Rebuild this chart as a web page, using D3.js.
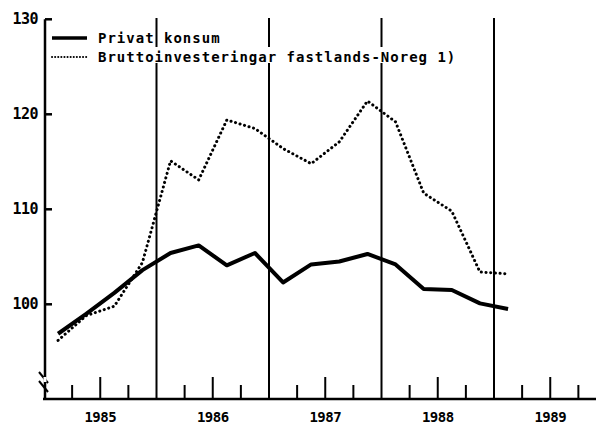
<!DOCTYPE html>
<html>
<head>
<meta charset="utf-8">
<script src="https://cdn.jsdelivr.net/npm/d3@7"></script>
<style>
  body { margin: 0; background: #fff; }
  text { font-family: "DejaVu Sans Mono", monospace; font-weight: bold; fill: #000; }
</style>
</head>
<body>
<div id="plot"></div>
<script>
// quarterly figures, 1985 K1 .. 1989 K1
var years = [1985, 1986, 1987, 1988, 1989];
var quarters = ["1985K1","1985K2","1985K3","1985K4","1986K1","1986K2","1986K3","1986K4",
                "1987K1","1987K2","1987K3","1987K4","1988K1","1988K2","1988K3","1988K4","1989K1"];
var konsum = [96.9, 99.0, 101.2, 103.6, 105.4, 106.2, 104.1, 105.4,
              102.3, 104.2, 104.5, 105.3, 104.2, 101.6, 101.5, 100.1, 99.5];
var brutto = [96.2, 98.8, 99.8, 104.4, 115.1, 113.1, 119.4, 118.5,
              116.4, 114.8, 117.1, 121.4, 119.2, 111.7, 109.8, 103.4, 103.2];
var yTicks = [100, 110, 120, 130];
var legendLabels = ["Privat konsum", "Bruttoinvesteringar fastlands-Noreg 1)"];

var width = 596, height = 424;

var svg = d3.select("#plot").append("svg")
    .attr("width", width)
    .attr("height", height);

// decimal year for quarter mid points
function qTime(q) {
  return +q.slice(0, 4) + (+q.slice(5) - 0.5) / 4;
}

var x = d3.scaleLinear().domain([1985, 1989]).range([44, 494]);
var y = d3.scaleLinear().domain([100, 130]).range([304.3, 19.3]);
var baseY = 399;

/*---- year separators ----*/
svg.selectAll(".sep")
  .data(years.slice(1))
  .enter().append("line")
  .attr("x1", function(d) { return x(d); })
  .attr("x2", function(d) { return x(d); })
  .attr("y1", 18)
  .attr("y2", baseY)
  .style("stroke", "#000")
  .style("stroke-width", 2);

/*---- axes ----*/
svg.append("line")
  .attr("x1", 45).attr("x2", 45)
  .attr("y1", y(130)).attr("y2", baseY)
  .style("stroke", "#000").style("stroke-width", 2.5);

svg.append("line")
  .attr("x1", 43).attr("x2", width)
  .attr("y1", baseY).attr("y2", baseY)
  .style("stroke", "#000").style("stroke-width", 2.5);

// y ticks point inward
svg.selectAll(".ytick")
  .data(yTicks)
  .enter().append("line")
  .attr("x1", 45).attr("x2", 52)
  .attr("y1", function(d) { return y(d); })
  .attr("y2", function(d) { return y(d); })
  .style("stroke", "#000").style("stroke-width", 2.5);

svg.selectAll(".ylab")
  .data(yTicks)
  .enter().append("text")
  .attr("x", 38)
  .attr("y", function(d) { return y(d) + 5; })
  .attr("text-anchor", "end")
  .style("font-size", "15px")
  .style("letter-spacing", "-0.5px")
  .text(function(d) { return d; });

// axis break marks
[0, 9].forEach(function(off) {
  svg.append("line")
    .attr("x1", 39).attr("y1", 372 + off)
    .attr("x2", 48).attr("y2", 383 + off)
    .style("stroke", "#000").style("stroke-width", 2);
});
svg.append("rect")
  .attr("x", 43.5).attr("y", 377).attr("width", 3).attr("height", 5)
  .style("fill", "#fff");

// quarter ticks on x axis
var qTicks = [];
years.forEach(function(yr) {
  [0.25, 0.5, 0.75].forEach(function(f) { qTicks.push(yr + f); });
});
svg.selectAll(".xtick")
  .data(qTicks)
  .enter().append("line")
  .attr("x1", function(d) { return x(d); })
  .attr("x2", function(d) { return x(d); })
  .attr("y1", baseY)
  .attr("y2", function(d) { return (d % 1 === 0.5) ? baseY - 22 : baseY - 14; })
  .style("stroke", "#000").style("stroke-width", 2);

svg.selectAll(".xlab")
  .data(years)
  .enter().append("text")
  .attr("x", function(d) { return x(d + 0.5); })
  .attr("y", 422)
  .attr("text-anchor", "middle")
  .style("font-size", "14px")
  .style("letter-spacing", "-0.5px")
  .text(function(d) { return d; });

/*---- series ----*/
var line = d3.line()
  .x(function(d) { return x(qTime(d.q)); })
  .y(function(d) { return y(d.v); });

function series(vals) {
  return quarters.map(function(q, i) { return {q: q, v: vals[i]}; });
}

svg.append("path")
  .datum(series(brutto))
  .attr("d", line)
  .style("fill", "none")
  .style("stroke", "#000")
  .style("stroke-width", 3)
  .style("stroke-linecap", "round")
  .style("stroke-dasharray", "0.1,4.6");

svg.append("path")
  .datum(series(konsum))
  .attr("d", line)
  .style("fill", "none")
  .style("stroke", "#000")
  .style("stroke-width", 4)
  .style("stroke-linejoin", "round");

/*---- legend ----*/
svg.append("rect")
  .attr("x", 96).attr("y", 47).attr("width", 362).attr("height", 16)
  .style("fill", "#fff");

var legend = svg.selectAll(".leg")
  .data(legendLabels)
  .enter().append("g")
  .attr("transform", function(d, i) { return "translate(52," + (38 + i * 19) + ")"; });

legend.append("line")
  .attr("x1", 0).attr("x2", 35)
  .attr("y1", 0).attr("y2", 0)
  .style("stroke", "#000")
  .style("stroke-width", function(d, i) { return i === 0 ? 3.5 : 2; })
  .style("stroke-linecap", function(d, i) { return i === 0 ? "butt" : "round"; })
  .style("stroke-dasharray", function(d, i) { return i === 0 ? null : "0.1,3"; });

legend.append("text")
  .attr("x", 46)
  .attr("y", 5)
  .style("font-size", "14px")
  .style("letter-spacing", "1px")
  .text(function(d) { return d; });
</script>
</body>
</html>
